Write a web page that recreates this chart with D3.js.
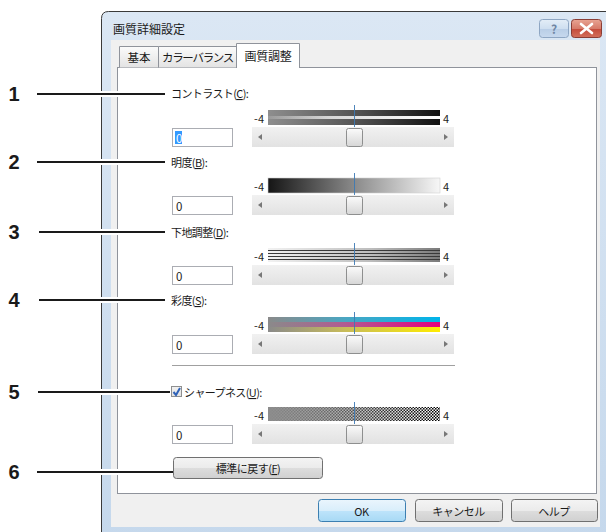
<!DOCTYPE html>
<html><head><meta charset="utf-8">
<script src="https://cdn.jsdelivr.net/npm/d3@7"></script>
<style>body{margin:0;background:#fff}svg{display:block}</style>
</head><body><script>
// ---- data ----
const dialogTitle = "画質詳細設定";
const tabs = ["基本", "カラーバランス", "画質調整"];
const selectedTab = 2;
const callouts = ["1", "2", "3", "4", "5", "6"];
const settingLabels = ["コントラスト(C):", "明度(B):", "下地調整(D):", "彩度(S):", "シャープネス(U):"];
const settingValues = [0, 0, 0, 0, 0];
const barKinds = ["contrast", "brightness", "background", "saturation", "sharpness"];
const sliderDomain = [-4, 4];
const rangeLabels = ["-4", "4"];
const resetLabel = "標準に戻す(F)";
const dialogButtons = ["OK", "キャンセル", "ヘルプ"];

// ---- layout ----
const W = 606, H = 532;
const FONT = "'Noto Sans CJK JP', 'Noto Sans', sans-serif";
const rowLabelY = [93, 162, 232, 300, 392];
const rowBarY = [110, 178, 248, 317, 407];
const rowBoxY = [128, 196, 266, 335, 425];
const calloutY = [94, 162, 232, 300, 392, 472];
const calloutX0 = [37, 37, 39, 39, 38, 37];
const calloutX1 = [165, 165, 165, 165, 170, 173];
const tabX = [119, 158, 236, 299];
const tabSpacing = [0, -1.3, -0.3];
const btnX = [[318, 405], [415, 502], [511, 597]];

const svg = d3.select("body").append("svg").attr("width", W).attr("height", H)
  .style("font-family", FONT);
const defs = svg.append("defs");

function lg(id, stops, vertical) {
  const g = defs.append("linearGradient").attr("id", id)
    .attr("x1", 0).attr("y1", 0).attr("x2", vertical ? 0 : 1).attr("y2", vertical ? 1 : 0);
  stops.forEach(s => g.append("stop").attr("offset", s[0]).attr("stop-color", s[1]).attr("stop-opacity", s[2] == null ? 1 : s[2]));
}
lg("frameG", [[0, "#dbe7f4"], [1, "#c5d8ec"]], true);
lg("tabG", [[0, "#fbfbfb"], [1, "#e3e3e3"]], true);
lg("btnG", [[0, "#f4f4f4"], [0.5, "#ebebeb"], [0.51, "#dddddd"], [1, "#d0d0d0"]], true);
lg("okG", [[0, "#eaf5fd"], [0.5, "#d9eefb"], [0.51, "#bee4fb"], [1, "#a7d9f5"]], true);
lg("helpG", [[0, "#e3edf7"], [0.5, "#cfdff0"], [0.51, "#b8cde6"], [1, "#c7d9ee"]], true);
lg("closeG", [[0, "#e8a493"], [0.5, "#d77b6a"], [0.51, "#c44a3a"], [1, "#d2705c"]], true);
lg("trackG", [[0, "#f1f1f1"], [1, "#e2e2e2"]], true);
lg("thumbG", [[0, "#fbfbfb"], [1, "#d6d6d6"]], true);
lg("conDark", [[0, "#8e8e8e"], [0.5, "#555"], [1, "#111"]]);
lg("conLight", [[0, "#9a9a9a"], [0.35, "#d6d6d6"], [1, "#ffffff"]]);
lg("briG", [[0, "#151515"], [0.5, "#8a8a8a"], [1, "#f7f7f7"]]);
lg("bgG", [[0, "#f2f2f2"], [0.6, "#bdbdbd"], [1, "#7a7a7a"]]);
lg("cyG", [[0, "#8a8a8a"], [0.45, "#4aa6c2"], [1, "#00b4ea"]]);
lg("mgG", [[0, "#8a8a8a"], [0.45, "#b25b92"], [1, "#e4007f"]]);
lg("ylG", [[0, "#8a8a8a"], [0.45, "#c8bc5a"], [1, "#ffec00"]]);
lg("shG", [[0, "#8c8c8c", 1], [0.35, "#8c8c8c", 0.75], [1, "#8c8c8c", 0]]);
const pat = defs.append("pattern").attr("id", "checker").attr("width", 3).attr("height", 3)
  .attr("patternUnits", "userSpaceOnUse");
pat.append("rect").attr("width", 3).attr("height", 3).attr("fill", "#fff");
pat.append("rect").attr("width", 1.5).attr("height", 1.5).attr("fill", "#000");
pat.append("rect").attr("x", 1.5).attr("y", 1.5).attr("width", 1.5).attr("height", 1.5).attr("fill", "#000");

// ---- window frame ----
const r = 7;
svg.append("path")
  .attr("d", `M101.5,${H + 10} V${11.5 + r} Q101.5,11.5 ${101.5 + r},11.5 H${W + 10} V${H + 10} Z`)
  .attr("fill", "url(#frameG)").attr("stroke", "#3a3a3a").attr("stroke-width", 1);
svg.append("rect").attr("x", 111).attr("y", 40).attr("width", 489).attr("height", 487).attr("fill", "#f0f0f0");
svg.append("text").attr("x", 113).attr("y", 28).attr("dominant-baseline", "central")
  .attr("font-size", 12).attr("fill", "#1a1a1a").text(dialogTitle);

// caption buttons
svg.append("rect").attr("x", 539.5).attr("y", 19.5).attr("width", 29).attr("height", 18).attr("rx", 3)
  .attr("fill", "url(#helpG)").attr("stroke", "#8ea6c3");
svg.append("text").attr("x", 554).attr("y", 28.5).attr("text-anchor", "middle").attr("dominant-baseline", "central")
  .attr("font-size", 12).attr("font-weight", "bold").attr("fill", "#6f86a3").text("?");
svg.append("rect").attr("x", 571.5).attr("y", 19.5).attr("width", 30).attr("height", 18).attr("rx", 3)
  .attr("fill", "url(#closeG)").attr("stroke", "#8a3d35");
svg.append("path").attr("d", "M581,24 L592,33 M592,24 L581,33")
  .attr("stroke", "#fff").attr("stroke-width", 2.6).attr("stroke-linecap", "round");

// ---- tab panel ----
svg.append("rect").attr("x", 117.5).attr("y", 67.5).attr("width", 479).attr("height", 426)
  .attr("fill", "#fff").attr("stroke", "#8f939b");
tabs.forEach((t, i) => {
  const sel = i === selectedTab;
  const x0 = tabX[i], x1 = tabX[i + 1];
  const y0 = sel ? 43.5 : 46.5;
  svg.append("path").attr("d", `M${x0 + 0.5},${sel ? 68 : 67.5} V${y0} H${x1 + 0.5} V${sel ? 68 : 67.5}`)
    .attr("fill", sel ? "#fff" : "url(#tabG)").attr("stroke", "#8f939b");
  if (sel) svg.append("rect").attr("x", x0 + 1).attr("y", 66).attr("width", x1 - x0 - 1).attr("height", 3).attr("fill", "#fff");
  svg.append("text").attr("x", (x0 + x1) / 2 + 0.5).attr("y", sel ? 55 : 57).attr("text-anchor", "middle")
    .attr("dominant-baseline", "central").attr("font-size", sel ? 12 : 11.5).attr("letter-spacing", tabSpacing[i])
    .attr("fill", "#1a1a1a").text(t);
});

// ---- labels with mnemonic underline ----
function mnemonicText(sel, str) {
  const m = str.match(/^(.*\()(.)(\).*)$/);
  if (!m) { sel.text(str); return; }
  sel.append("tspan").text(m[1]);
  sel.append("tspan").attr("text-decoration", "underline").text(m[2]);
  sel.append("tspan").text(m[3]);
}

// ---- sliders ----
const x = d3.scaleLinear().domain(sliderDomain).range([268, 440]);
const barH = 14;

function drawBar(g, kind, y) {
  const x0 = x(sliderDomain[0]), w = x(sliderDomain[1]) - x0;
  if (kind === "contrast") {
    g.append("rect").attr("x", x0).attr("y", y).attr("width", w).attr("height", 6).attr("fill", "url(#conDark)");
    g.append("rect").attr("x", x0).attr("y", y + 6).attr("width", w).attr("height", 3).attr("fill", "url(#conLight)");
    g.append("rect").attr("x", x0).attr("y", y + 9).attr("width", w).attr("height", 6).attr("fill", "url(#conDark)");
  } else if (kind === "brightness") {
    g.append("rect").attr("x", x0).attr("y", y).attr("width", w).attr("height", barH + 1).attr("fill", "url(#briG)")
      .attr("stroke", "#d0d0d0").attr("stroke-width", 0.6);
  } else if (kind === "background") {
    g.append("rect").attr("x", x0).attr("y", y).attr("width", w).attr("height", barH).attr("fill", "url(#bgG)");
    [2.5, 5.5, 8.5, 11.5].forEach(d => g.append("line").attr("x1", x0).attr("x2", x0 + w)
      .attr("y1", y + d).attr("y2", y + d).attr("stroke", "#3a3a3a").attr("stroke-width", 1.1));
  } else if (kind === "saturation") {
    ["cyG", "mgG", "ylG"].forEach((id, k) => g.append("rect").attr("x", x0).attr("y", y + k * 5)
      .attr("width", w).attr("height", 5).attr("fill", `url(#${id})`));
  } else if (kind === "sharpness") {
    g.append("rect").attr("x", x0).attr("y", y).attr("width", w).attr("height", barH).attr("fill", "url(#checker)");
    g.append("rect").attr("x", x0).attr("y", y).attr("width", w).attr("height", barH).attr("fill", "url(#shG)");
  }
}

settingLabels.forEach((lab, i) => {
  const g = svg.append("g");
  const isCheck = i === 4;
  const lx = isCheck ? 184 : 171;
  if (isCheck) {
    g.append("rect").attr("x", 171.5).attr("y", rowLabelY[i] - 5.5).attr("width", 10).attr("height", 10)
      .attr("fill", "url(#trackG)").attr("stroke", "#8e8f8f");
    g.append("path").attr("d", `M173.5,${rowLabelY[i]} L176,${rowLabelY[i] + 3} L180,${rowLabelY[i] - 4}`)
      .attr("fill", "none").attr("stroke", "#2f62b8").attr("stroke-width", 2);
  }
  mnemonicText(g.append("text").attr("x", lx).attr("y", rowLabelY[i]).attr("dominant-baseline", "central")
    .attr("font-size", 11).attr("letter-spacing", -0.6).attr("fill", "#1a1a1a"), lab);

  const by = rowBarY[i];
  drawBar(g, barKinds[i], by);
  g.append("text").attr("x", 264).attr("y", by + 7.5).attr("text-anchor", "end").attr("dominant-baseline", "central")
    .attr("font-size", 11).attr("fill", "#222").text(rangeLabels[0]);
  g.append("text").attr("x", 443).attr("y", by + 7.5).attr("dominant-baseline", "central")
    .attr("font-size", 11).attr("fill", "#222").text(rangeLabels[1]);
  // center tick
  g.append("line").attr("x1", x(0) + 0.5).attr("x2", x(0) + 0.5).attr("y1", by - 5).attr("y2", by + 20)
    .attr("stroke", "#3d7ab5").attr("stroke-width", 1).attr("opacity", 0.9);

  // value box
  const yb = rowBoxY[i];
  g.append("rect").attr("x", 172.5).attr("y", yb + 0.5).attr("width", 60).attr("height", 18)
    .attr("fill", "#fff").attr("stroke", "#abadb3");
  if (i === 0) {
    g.append("rect").attr("x", 175).attr("y", yb + 3).attr("width", 7).attr("height", 13).attr("fill", "#3399ff");
  }
  g.append("text").attr("x", 176).attr("y", yb + 9.5).attr("dominant-baseline", "central")
    .attr("font-size", 11.5).attr("fill", i === 0 ? "#fff" : "#1a1a1a").text(settingValues[i]);

  // track
  g.append("rect").attr("x", 252).attr("y", yb - 1).attr("width", 202).attr("height", 20).attr("fill", "url(#trackG)");
  g.append("path").attr("d", `M262,${yb + 6} L258,${yb + 9} L262,${yb + 12} Z`).attr("fill", "#777");
  g.append("path").attr("d", `M444,${yb + 6} L448,${yb + 9} L444,${yb + 12} Z`).attr("fill", "#777");
  const tx = x(settingValues[i]);
  g.append("rect").attr("x", tx - 7.5).attr("y", yb + 0.5).attr("width", 16).attr("height", 18).attr("rx", 2)
    .attr("fill", "url(#thumbG)").attr("stroke", "#8e8f8f");
});

// separator
svg.append("line").attr("x1", 172).attr("x2", 455).attr("y1", 365.5).attr("y2", 365.5).attr("stroke", "#a0a0a0");
svg.append("line").attr("x1", 172).attr("x2", 455).attr("y1", 366.5).attr("y2", 366.5).attr("stroke", "#fff");

// reset button
svg.append("rect").attr("x", 173.5).attr("y", 457.5).attr("width", 149).attr("height", 21).attr("rx", 3)
  .attr("fill", "url(#btnG)").attr("stroke", "#707070");
mnemonicText(svg.append("text").attr("x", 248).attr("y", 468).attr("text-anchor", "middle")
  .attr("dominant-baseline", "central").attr("font-size", 11).attr("letter-spacing", -0.5).attr("fill", "#1a1a1a"), resetLabel);

// dialog buttons
dialogButtons.forEach((b, i) => {
  const [a, c] = btnX[i];
  svg.append("rect").attr("x", a + 0.5).attr("y", 499.5).attr("width", c - a).attr("height", 22).attr("rx", 3)
    .attr("fill", i === 0 ? "url(#okG)" : "url(#btnG)").attr("stroke", i === 0 ? "#3c7fb1" : "#707070");
  svg.append("text").attr("x", (a + c) / 2).attr("y", 510.5).attr("text-anchor", "middle")
    .attr("dominant-baseline", "central").attr("font-size", 11).attr("letter-spacing", -0.5).attr("fill", "#1a1a1a").text(b);
});

// ---- callouts ----
callouts.forEach((n, i) => {
  svg.append("line").attr("x1", calloutX0[i]).attr("x2", calloutX1[i]).attr("y1", calloutY[i]).attr("y2", calloutY[i])
    .attr("stroke", "#fff").attr("stroke-width", 6);
  svg.append("line").attr("x1", calloutX0[i]).attr("x2", calloutX1[i]).attr("y1", calloutY[i]).attr("y2", calloutY[i])
    .attr("stroke", "#1a1a1a").attr("stroke-width", 2.2);
  svg.append("text").attr("x", 14).attr("y", calloutY[i] - 0.5).attr("text-anchor", "middle").attr("dominant-baseline", "central")
    .attr("font-family", "'Liberation Sans', Arial, sans-serif").attr("font-weight", "bold").attr("font-size", 20)
    .attr("fill", "#1a1a1a").text(n);
});
</script></body></html>
